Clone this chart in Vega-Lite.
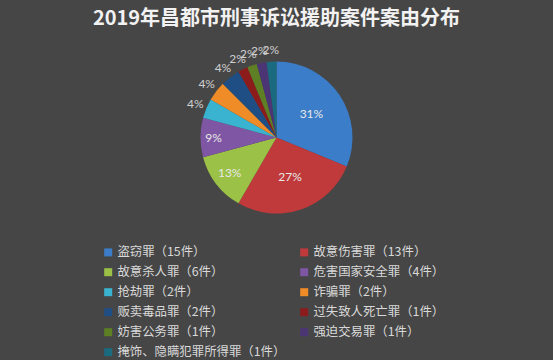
{
  "$schema": "https://vega.github.io/schema/vega-lite/v6.json",
  "width": 553,
  "height": 205,
  "autosize": {"type": "none"},
  "padding": {"left": 0, "top": 35, "right": 0, "bottom": 120},
  "background": "#464646",
  "title": {
    "text": "2019年昌都市刑事诉讼援助案件案由分布",
    "anchor": "middle",
    "font": "Noto Sans CJK SC",
    "fontSize": 20,
    "fontWeight": "bold",
    "color": "#f2f2f2",
    "offset": 6
  },
  "data": {
    "values": [
      {"name": "盗窃罪（15件）", "count": 15, "pct": "31%", "order": 1},
      {"name": "故意伤害罪（13件）", "count": 13, "pct": "27%", "order": 2},
      {"name": "故意杀人罪（6件）", "count": 6, "pct": "13%", "order": 3},
      {"name": "危害国家安全罪（4件）", "count": 4, "pct": "9%", "order": 4},
      {"name": "抢劫罪（2件）", "count": 2, "pct": "4%", "order": 5},
      {"name": "诈骗罪（2件）", "count": 2, "pct": "4%", "order": 6},
      {"name": "贩卖毒品罪（2件）", "count": 2, "pct": "4%", "order": 7},
      {"name": "过失致人死亡罪（1件）", "count": 1, "pct": "2%", "order": 8},
      {"name": "妨害公务罪（1件）", "count": 1, "pct": "2%", "order": 9},
      {"name": "强迫交易罪（1件）", "count": 1, "pct": "2%", "order": 10},
      {"name": "掩饰、隐瞒犯罪所得罪（1件）", "count": 1, "pct": "2%", "order": 11}
    ]
  },
  "encoding": {
    "theta": {"field": "count", "type": "quantitative", "stack": true},
    "order": {"field": "order", "type": "quantitative"},
    "color": {
      "field": "name",
      "type": "nominal",
      "sort": null,
      "scale": {
        "domain": ["盗窃罪（15件）", "故意伤害罪（13件）", "故意杀人罪（6件）", "危害国家安全罪（4件）", "抢劫罪（2件）", "诈骗罪（2件）", "贩卖毒品罪（2件）", "过失致人死亡罪（1件）", "妨害公务罪（1件）", "强迫交易罪（1件）", "掩饰、隐瞒犯罪所得罪（1件）"],
        "range": ["#3b7dc9", "#c0393b", "#9bc146", "#7e56a3", "#3ab3d0", "#f08c28", "#1f4e84", "#8c1c1c", "#5e7f24", "#4b3575", "#1a6a80"]
      },
      "legend": {
        "orient": "none",
        "legendX": 102,
        "legendY": 211,
        "direction": "horizontal",
        "columns": 2,
        "columnPadding": 12,
        "rowPadding": 7,
        "title": null,
        "symbolType": "square",
        "symbolSize": 64,
        "symbolStrokeWidth": 0,
        "labelFont": "Noto Sans CJK SC",
        "labelFontSize": 12.4,
        "labelColor": "#d9d9d9",
        "labelLimit": 300,
        "labelOffset": 3
      }
    }
  },
  "layer": [
    {"mark": {"type": "arc", "outerRadius": 76, "stroke": null}},
    {
      "mark": {"type": "text", "radius": 42, "font": "Lato", "fontSize": 12},
      "encoding": {
        "text": {"condition": {"test": "datum.count >= 13", "field": "pct"}, "value": ""},
        "color": {"value": "#e8e8e8"}
      }
    },
    {
      "mark": {"type": "text", "radius": 59, "font": "Lato", "fontSize": 12},
      "encoding": {
        "text": {"condition": {"test": "datum.count == 6", "field": "pct"}, "value": ""},
        "color": {"value": "#e8e8e8"}
      }
    },
    {
      "mark": {"type": "text", "radius": 63, "font": "Lato", "fontSize": 12},
      "encoding": {
        "text": {"condition": {"test": "datum.count == 4", "field": "pct"}, "value": ""},
        "color": {"value": "#e8e8e8"}
      }
    },
    {
      "mark": {"type": "text", "radius": 88, "font": "Lato", "fontSize": 12},
      "encoding": {
        "text": {"condition": {"test": "datum.count < 4", "field": "pct"}, "value": ""},
        "color": {"value": "#d0d0d0"}
      }
    }
  ],
  "config": {"view": {"stroke": null}}
}
